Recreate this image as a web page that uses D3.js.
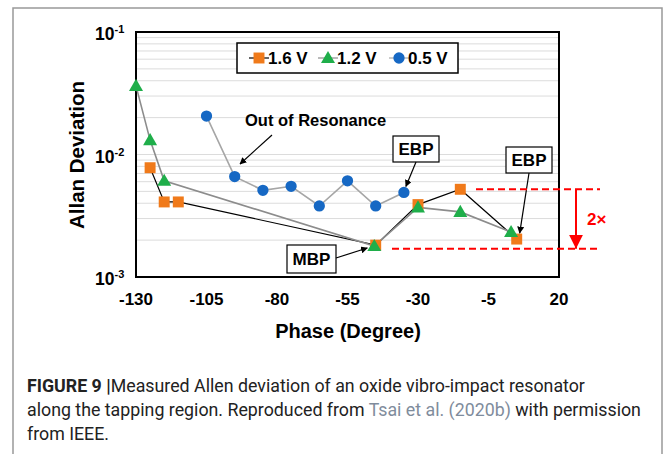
<!DOCTYPE html>
<html>
<head>
<meta charset="utf-8">
<script src="https://cdn.jsdelivr.net/npm/d3@7"></script>
<style>
  body { margin: 0; background: #fff; }
  svg { display: block; }
</style>
</head>
<body>
<script>
// values
const xTicks = [-130, -105, -80, -55, -30, -5, 20]
const yTicks = [-3, -2, -1]

const phase16 = [-125, -120, -115, -45, -30, -15, 5]
const dev16 = [0.0078, 0.0041, 0.0041, 0.00182, 0.0039, 0.0052, 0.00204]

const phase12 = [-130, -125, -120, -45.5, -30, -15, 3]
const dev12 = [0.0363, 0.0131, 0.0061, 0.00179, 0.0037, 0.0034, 0.00233]

const phase05 = [-105, -95, -85, -75, -65, -55, -45, -35]
const dev05 = [0.0206, 0.0066, 0.0051, 0.0055, 0.0038, 0.0061, 0.0038, 0.0049]

const width = 665
const height = 454

const svg = d3.select('body')
  .append('svg')
  .attr('width', width)
  .attr('height', height)

// outer frame
svg.append('path')
  .attr('d', 'M13,454 V8 H662 V454')
  .attr('fill', 'none')
  .attr('stroke', '#999')
  .attr('stroke-width', 1.5)

const x = d3.scaleLinear().domain([-130, 20]).range([136, 559])
const y = d3.scaleLog().domain([1e-3, 1e-1]).range([277, 32])

const font = 'Liberation Sans, Arial, sans-serif'

// minor gridlines
const grid = []
for (let e = -3; e < -1; e++) {
  for (let m = 1; m <= 9; m++) {
    if (e === -3 && m === 1) continue
    grid.push(m * Math.pow(10, e))
  }
}
svg.append('g')
  .selectAll('line')
  .data(grid)
  .join('line')
  .attr('x1', x(-130))
  .attr('x2', x(20))
  .attr('y1', d => y(d))
  .attr('y2', d => y(d))
  .attr('stroke', '#dcdcdc')
  .attr('stroke-width', 1)

// plot border
svg.append('rect')
  .attr('x', x(-130))
  .attr('y', y(1e-1))
  .attr('width', x(20) - x(-130))
  .attr('height', y(1e-3) - y(1e-1))
  .attr('fill', 'none')
  .attr('stroke', '#000')
  .attr('stroke-width', 2)

// x tick labels
svg.append('g')
  .selectAll('text')
  .data(xTicks)
  .join('text')
  .attr('x', d => x(d))
  .attr('y', 305)
  .attr('text-anchor', 'middle')
  .attr('font-family', font)
  .attr('font-weight', 'bold')
  .attr('font-size', 17)
  .text(d => d)

// y tick labels 10^n
const yl = svg.append('g')
  .selectAll('text')
  .data(yTicks)
  .join('text')
  .attr('x', 95)
  .attr('y', d => y(Math.pow(10, d)) + 8)
  .attr('font-family', font)
  .attr('font-weight', 'bold')
  .attr('font-size', 17.5)
yl.append('tspan').text('10')
yl.append('tspan')
  .attr('dy', -7)
  .attr('font-size', 11)
  .text(d => '-' + Math.abs(d))

// axis titles
svg.append('text')
  .attr('x', 348)
  .attr('y', 338)
  .attr('text-anchor', 'middle')
  .attr('font-family', font)
  .attr('font-weight', 'bold')
  .attr('font-size', 20)
  .text('Phase (Degree)')

svg.append('text')
  .attr('transform', 'translate(84,155) rotate(-90)')
  .attr('text-anchor', 'middle')
  .attr('font-family', font)
  .attr('font-weight', 'bold')
  .attr('font-size', 20.5)
  .text('Allan Deviation')

// series
const series = [
  { name: '1.6 V', px: phase16, py: dev16, line: '#000', lw: 1.2, shape: 'square', color: '#f07a1a' },
  { name: '1.2 V', px: phase12, py: dev12, line: '#8c8c8c', lw: 1.6, shape: 'triangle', color: '#1fae4a' },
  { name: '0.5 V', px: phase05, py: dev05, line: '#a6a6a6', lw: 1.6, shape: 'circle', color: '#1668c4' }
]

const symbolOf = {
  square: d3.symbol(d3.symbolSquare, 120),
  triangle: d3.symbol(d3.symbolTriangle, 85),
  circle: d3.symbol(d3.symbolCircle, 100)
}

const line = d3.line().x(d => x(d[0])).y(d => y(d[1]))

series.forEach(s => {
  const pts = s.px.map((p, i) => [p, s.py[i]])
  svg.append('path')
    .datum(pts)
    .attr('d', line)
    .attr('fill', 'none')
    .attr('stroke', s.line)
    .attr('stroke-width', s.lw)
})

series.forEach(s => {
  const pts = s.px.map((p, i) => [p, s.py[i]])
  svg.append('g')
    .selectAll('path')
    .data(pts)
    .join('path')
    .attr('transform', d => `translate(${x(d[0])},${y(d[1]) + (s.shape === 'triangle' ? 1 : 0)})`)
    .attr('d', symbolOf[s.shape]())
    .attr('fill', s.color)
})

// legend
svg.append('rect')
  .attr('x', 237)
  .attr('y', 43)
  .attr('width', 221)
  .attr('height', 30)
  .attr('fill', '#fff')
  .attr('stroke', '#000')
  .attr('stroke-width', 1.5)

const legendX = [259, 328, 399]
series.forEach((s, i) => {
  const lx = legendX[i]
  svg.append('line')
    .attr('x1', lx - 10)
    .attr('x2', lx + 10)
    .attr('y1', 58)
    .attr('y2', 58)
    .attr('stroke', s.line)
    .attr('stroke-width', 1.2)
  svg.append('path')
    .attr('transform', `translate(${lx},${58 + (s.shape === 'triangle' ? 1 : 0)})`)
    .attr('d', symbolOf[s.shape]())
    .attr('fill', s.color)
  svg.append('text')
    .attr('x', lx + 9)
    .attr('y', 64)
    .attr('font-family', font)
    .attr('font-weight', 'bold')
    .attr('font-size', 17)
    .text(s.name)
})

// annotations
const defs = svg.append('defs')
defs.append('marker')
  .attr('id', 'ah')
  .attr('viewBox', '0 0 10 10')
  .attr('refX', 9)
  .attr('refY', 5)
  .attr('markerWidth', 7)
  .attr('markerHeight', 7)
  .attr('markerUnits', 'userSpaceOnUse')
  .attr('orient', 'auto')
  .append('path')
  .attr('d', 'M0,0 L10,5 L0,10 z')
  .attr('fill', '#000')
defs.append('marker')
  .attr('id', 'ahr')
  .attr('viewBox', '0 0 10 10')
  .attr('refX', 10)
  .attr('refY', 5)
  .attr('markerWidth', 14)
  .attr('markerHeight', 14)
  .attr('markerUnits', 'userSpaceOnUse')
  .attr('orient', 'auto')
  .append('path')
  .attr('d', 'M0,0 L10,5 L0,10 z')
  .attr('fill', '#f00')

function arrow(x1, y1, x2, y2) {
  svg.append('line')
    .attr('x1', x1).attr('y1', y1)
    .attr('x2', x2).attr('y2', y2)
    .attr('stroke', '#000')
    .attr('stroke-width', 1.2)
    .attr('marker-end', 'url(#ah)')
}

function boxLabel(bx, by, bw, bh, txt) {
  svg.append('rect')
    .attr('x', bx).attr('y', by)
    .attr('width', bw).attr('height', bh)
    .attr('fill', '#fff')
    .attr('stroke', '#000')
    .attr('stroke-width', 1.2)
  svg.append('text')
    .attr('x', bx + bw / 2)
    .attr('y', by + bh / 2 + 6)
    .attr('text-anchor', 'middle')
    .attr('font-family', font)
    .attr('font-weight', 'bold')
    .attr('font-size', 17)
    .text(txt)
}

svg.append('text')
  .attr('x', 245)
  .attr('y', 126)
  .attr('font-family', font)
  .attr('font-weight', 'bold')
  .attr('font-size', 16.5)
  .text('Out of Resonance')
arrow(272, 135, 240, 164)

boxLabel(393, 136, 46, 26, 'EBP')
arrow(416, 162, x(-35) + 2, y(0.0049) - 6)

boxLabel(506, 147, 46, 26, 'EBP')
arrow(529, 173, x(5) + 3, y(0.00204) - 6)

boxLabel(287, 245, 49, 28, 'MBP')
arrow(336, 258, x(-45.5) - 7, y(0.00179) + 2)

// red 2x markers
const red = '#f00'
svg.append('line')
  .attr('x1', 476).attr('x2', 600)
  .attr('y1', y(0.0052)).attr('y2', y(0.0052))
  .attr('stroke', red).attr('stroke-width', 2)
  .attr('stroke-dasharray', '7,4')
svg.append('line')
  .attr('x1', 392).attr('x2', 600)
  .attr('y1', y(0.0017)).attr('y2', y(0.0017))
  .attr('stroke', red).attr('stroke-width', 2)
  .attr('stroke-dasharray', '7,4')
svg.append('line')
  .attr('x1', 576).attr('x2', 576)
  .attr('y1', y(0.0052)).attr('y2', y(0.0017))
  .attr('stroke', red).attr('stroke-width', 2)
  .attr('marker-end', 'url(#ahr)')
svg.append('text')
  .attr('x', 587)
  .attr('y', 225)
  .attr('fill', red)
  .attr('font-family', font)
  .attr('font-weight', 'bold')
  .attr('font-size', 17)
  .text('2\u00d7')

// caption
const capFont = 'Roboto, Liberation Sans, sans-serif'
const cap = svg.append('g')
  .attr('font-family', capFont)
  .attr('font-size', 17.8)
  .attr('fill', '#222')

const l1 = cap.append('text').attr('x', 27).attr('y', 392)
l1.append('tspan').attr('font-weight', 'bold').text('FIGURE 9 |')
l1.append('tspan').text('Measured Allen deviation of an oxide vibro-impact resonator')

const l2 = cap.append('text').attr('x', 27).attr('y', 416)
l2.append('tspan').text('along the tapping region. Reproduced from ')
l2.append('tspan').attr('fill', '#7f8c9c').text('Tsai et al. (2020b)')
l2.append('tspan').text(' with permission')

cap.append('text').attr('x', 27).attr('y', 440).text('from IEEE.')
</script>
</body>
</html>
